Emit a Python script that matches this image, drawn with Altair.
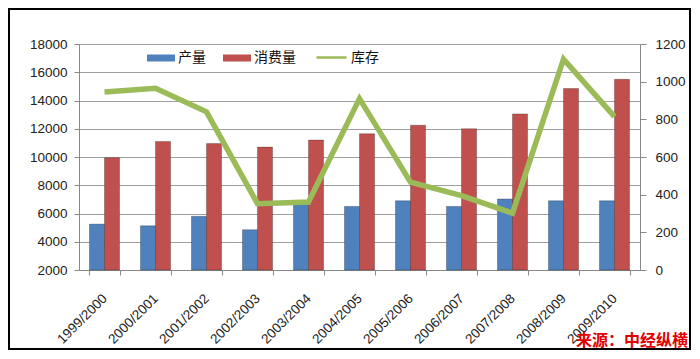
import altair as alt
import pandas as pd

years = ["1999/2000", "2000/2001", "2001/2002", "2002/2003", "2003/2004", "2004/2005",
         "2005/2006", "2006/2007", "2007/2008", "2008/2009", "2009/2010"]
production = [5250, 5130, 5800, 4850, 6630, 6500, 6900, 6500, 7030, 6900, 6900]
consumption = [9950, 11100, 10950, 10700, 11200, 11650, 12250, 12000, 13050, 14850, 15500]
stock = [945, 965, 840, 352, 361, 910, 466, 395, 302, 1120, 814]

series_names = ["产量", "消费量"]
stock_name = "库存"
left_ticks = [2000, 4000, 6000, 8000, 10000, 12000, 14000, 16000, 18000]
right_ticks = [0, 200, 400, 600, 800, 1000, 1200]
source_text = "来源：中经纵横"

bars_df = pd.DataFrame({
    "year": years * 2,
    "series": [series_names[0]] * len(years) + [series_names[1]] * len(years),
    "value": production + consumption,
})
line_df = pd.DataFrame({"year": years, "stock": stock, "name": [stock_name] * len(years)})
one_row = pd.DataFrame({"a": [0]})

x_scale = alt.Scale(domain=years, paddingInner=0.41, paddingOuter=0.205)
x_axis = alt.Axis(title=None, labelAngle=-45, labelAlign="right", labelBaseline="middle",
                  labelFont="Liberation Sans", labelFontSize=13.5, labelColor="#222",
                  tickBand="extent", tickSize=5, tickColor="#888", domainColor="#888",
                  labelPadding=21, grid=False, labelOverlap=False)

bars = alt.Chart(bars_df).mark_bar(stroke="#00000050", strokeWidth=0.8).encode(
    x=alt.X("year:N", scale=x_scale, axis=x_axis, sort=years),
    xOffset=alt.XOffset("series:N", sort=series_names,
                        scale=alt.Scale(domain=series_names, paddingInner=0, paddingOuter=0)),
    y=alt.Y("value:Q", scale=alt.Scale(domain=[2000, 18000], zero=False, nice=False),
            axis=alt.Axis(title=None, orient="left", values=left_ticks, format="d", grid=True,
                          gridColor="#a0a0a0", domainColor="#888", tickColor="#888",
                          tickSize=5, labelPadding=7, labelFont="Liberation Sans",
                          labelFontSize=13.5, labelColor="#222")),
    y2=alt.datum(2000),
    color=alt.Color("series:N", sort=series_names,
                    scale=alt.Scale(domain=series_names, range=["#4F81BD", "#C0504D"]),
                    legend=alt.Legend(title=None, orient="none", legendX=68, legendY=0,
                                      direction="horizontal", padding=0,
                                      symbolType="M-1,-0.25H1V0.25H-1Z", symbolSize=784,
                                      symbolStrokeWidth=0, labelFont="Noto Sans CJK SC",
                                      labelFontSize=14, labelColor="#111", labelOffset=3,
                                      columnPadding=17)),
)

line = alt.Chart(line_df).mark_line(strokeWidth=5.5).encode(
    x=alt.X("year:N", scale=x_scale, axis=x_axis, sort=years),
    y=alt.Y("stock:Q", scale=alt.Scale(domain=[0, 1200], nice=False),
            axis=alt.Axis(title=None, orient="right", values=right_ticks, format="d", grid=False,
                          domainColor="#888", tickColor="#888", tickSize=6, labelPadding=9,
                          labelFont="Liberation Sans", labelFontSize=13.5, labelColor="#222")),
    stroke=alt.Stroke("name:N",
                      scale=alt.Scale(domain=[stock_name], range=["#9BBB59"]),
                      legend=alt.Legend(title=None, orient="none", legendX=236, legendY=-3,
                                        padding=0, symbolType="stroke", symbolSize=900,
                                        symbolStrokeWidth=2.5, labelFont="Noto Sans CJK SC",
                                        labelFontSize=14, labelColor="#111", labelOffset=3)),
)

frame = alt.Chart(one_row).mark_rect(fill="transparent", stroke="black", strokeWidth=2).encode(
    x=alt.value(-70), x2=alt.value(611), y=alt.value(-35), y2=alt.value(305)
)

source = alt.Chart(one_row).mark_text(align="right", baseline="middle", fontSize=16,
                                      fontWeight="bold", color="#E00000",
                                      font="Noto Sans CJK SC").encode(
    x=alt.value(609), y=alt.value(297), text=alt.value(source_text)
)

chart = alt.layer(bars, line, frame, source).resolve_scale(y="independent").properties(
    width=561, height=226, autosize="none",
    padding={"left": 71, "top": 36, "right": 52, "bottom": 80},
).configure_view(stroke=None)

chart.save("out.html", embed_options={"renderer": "svg", "actions": False})
